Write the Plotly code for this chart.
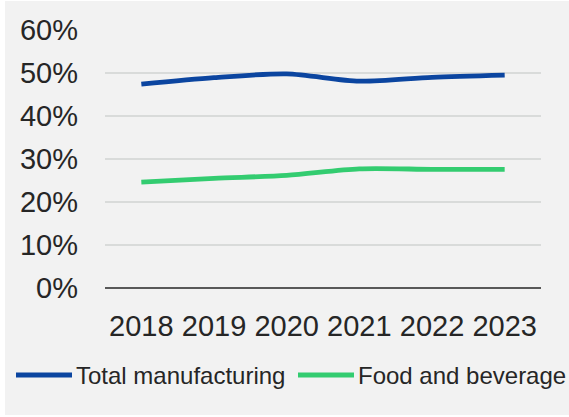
import plotly.graph_objects as go

# Share of value added, by sector
years = ["2018", "2019", "2020", "2021", "2022", "2023"]
total_manufacturing = [0.474, 0.489, 0.498, 0.481, 0.490, 0.495]
food_and_beverage = [0.246, 0.255, 0.262, 0.277, 0.276, 0.276]

series_names = ["Total manufacturing", "Food and beverage"]
series_colors = ["#0B45A0", "#33CC70"]

W, H = 569, 417
L, R, T, B = 105, 28, 30, 129
plot_w, plot_h = W - L - R, H - T - B


def px_x(px):
    return (px - L) / plot_w


def px_y(py):
    return (H - B - py) / plot_h


FONT = "Liberation Sans, Arial, sans-serif"
TEXT = "#262626"

fig = go.Figure()
for name, vals, col in zip(series_names, [total_manufacturing, food_and_beverage], series_colors):
    fig.add_trace(go.Scatter(
        x=years, y=vals, name=name, mode="lines",
        line=dict(color=col, width=4.8, shape="spline", smoothing=0.8),
        showlegend=False,
    ))

shapes = [
    # light panel behind everything
    dict(type="rect", xref="paper", yref="paper", layer="below",
         x0=px_x(5), x1=px_x(569), y0=px_y(415), y1=px_y(1),
         fillcolor="#F2F2F2", line=dict(width=0)),
]
annotations = []

# legend drawn as line swatches with text
legend_y = px_y(375)
for (x0, x1, xt), name, col in zip([(16, 72, 74), (298, 354, 356)], series_names, series_colors):
    shapes.append(dict(type="line", xref="paper", yref="paper",
                       x0=px_x(x0), x1=px_x(x1), y0=legend_y, y1=legend_y,
                       line=dict(color=col, width=5)))
    annotations.append(dict(xref="paper", yref="paper", x=px_x(xt), y=legend_y,
                            xanchor="left", yanchor="middle", showarrow=False,
                            text=name, font=dict(family=FONT, size=24, color=TEXT)))

fig.update_layout(
    width=W, height=H,
    margin=dict(l=L, r=R, t=T, b=B),
    paper_bgcolor="white",
    plot_bgcolor="rgba(0,0,0,0)",
    shapes=shapes,
    annotations=annotations,
    font=dict(family=FONT, size=29, color=TEXT),
)
fig.update_xaxes(
    type="category", range=[-0.5, len(years) - 0.5],
    showgrid=False, showline=False, ticks="",
    ticklabelstandoff=18, tickfont=dict(size=29, color=TEXT),
)
fig.update_yaxes(
    range=[0, 0.6], dtick=0.1, tickformat=".0%",
    showgrid=True, gridcolor="#D9DBDA", gridwidth=1.5,
    zeroline=True, zerolinecolor="#595959", zerolinewidth=1.8,
    showline=False, ticks="", ticklabelstandoff=26,
    tickfont=dict(size=29, color=TEXT),
)

fig.write_html("out.html")
